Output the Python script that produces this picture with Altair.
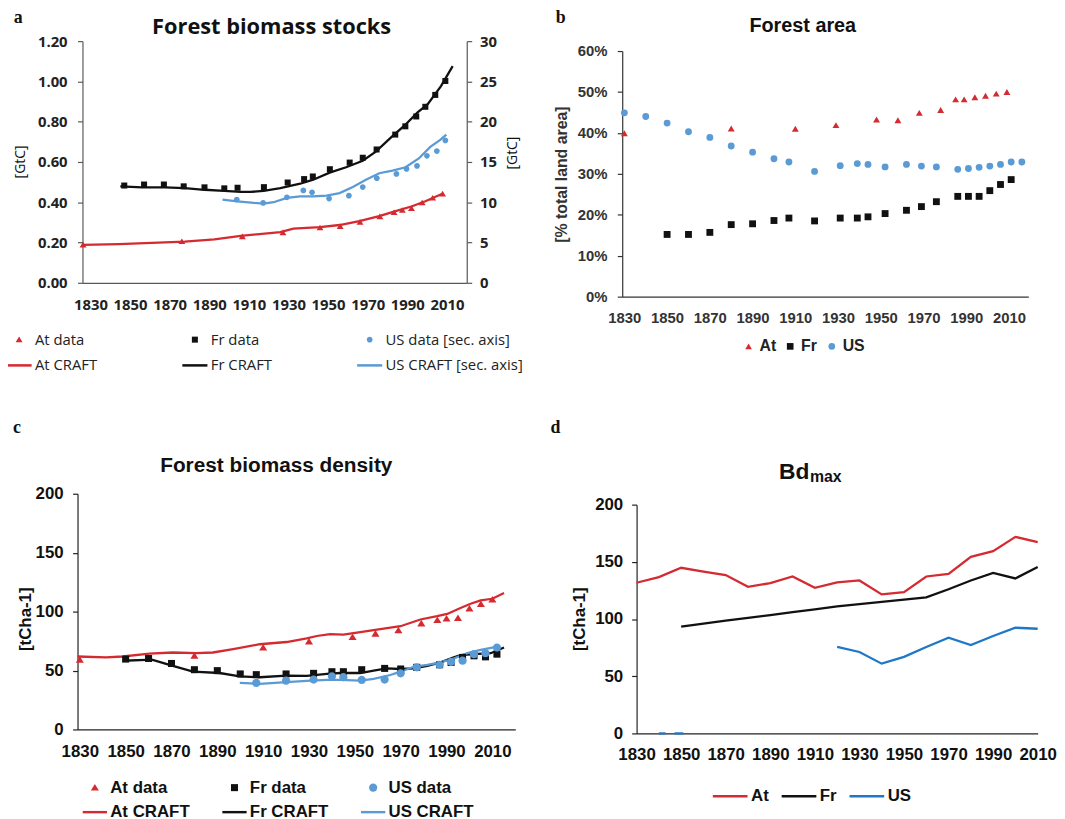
import altair as alt
import pandas as pd

RED = "#d42a30"
BLACK = "#111111"
LBLUE = "#5b9bd5"
DBLUE = "#1f77c8"
SANS = "Liberation Sans"
CAL = "Open Sans"
SERIF = "Liberation Serif"

XV = [1830, 1850, 1870, 1890, 1910, 1930, 1950, 1970, 1990, 2010]

# ---------------- panel a : forest biomass stocks ----------------
a_at_year = [1826.3, 1876.2, 1906.7, 1927.2, 1945.9, 1956.1, 1966.1, 1976.1, 1983.3, 1987.5, 1992.1, 1997.5, 2002.8, 2007.8]
a_at_val = [0.188, 0.205, 0.229, 0.249, 0.273, 0.280, 0.301, 0.328, 0.349, 0.360, 0.369, 0.397, 0.421, 0.441]
a_fr_year = [1847.1, 1857.1, 1867.1, 1877.1, 1887.6, 1897.6, 1904.3, 1917.6, 1929.6, 1937.9, 1942.3, 1950.9,
             1960.9, 1967.5, 1974.5, 1983.9, 1989.0, 1994.5, 1999.1, 2004.1, 2009.2]
a_fr_val = [0.483, 0.488, 0.488, 0.479, 0.474, 0.469, 0.472, 0.475, 0.498, 0.515, 0.528, 0.564,
            0.597, 0.621, 0.662, 0.736, 0.777, 0.826, 0.874, 0.933, 1.002]
a_us_year = [1903.9, 1917.2, 1929.2, 1937.5, 1941.9, 1950.5, 1960.5, 1967.5, 1974.6, 1984.5, 1989.6, 1994.9,
             1999.9, 2004.9, 2009.2]
a_us_val = [10.33, 9.91, 10.61, 11.47, 11.23, 10.45, 10.82, 11.88, 12.99, 13.52, 14.14, 14.51, 15.77, 16.35, 17.67]
a_atc_year = [1826.0, 1844.3, 1877.6, 1892.6, 1905.9, 1925.9, 1932.5, 1945.9, 1955.8, 1965.8, 1975.8, 1984.1,
              1992.4, 1999.1, 2007.4]
a_atc_val = [0.188, 0.192, 0.205, 0.216, 0.233, 0.252, 0.269, 0.277, 0.287, 0.306, 0.331, 0.356, 0.380, 0.405, 0.441]
a_frc_year = [1845.1, 1856.0, 1867.6, 1877.6, 1887.6, 1897.6, 1905.9, 1910.9, 1917.5, 1925.9, 1935.9, 1942.5,
              1950.8, 1959.1, 1967.5, 1974.1, 1981.8, 1988.5, 1995.2, 2000.3, 2007.0, 2012.9]
a_frc_val = [0.479, 0.474, 0.474, 0.470, 0.462, 0.457, 0.452, 0.451, 0.457, 0.470, 0.492, 0.512,
             0.547, 0.574, 0.606, 0.651, 0.722, 0.780, 0.846, 0.887, 0.977, 1.076]
a_usc_year = [1896.7, 1904.2, 1912.5, 1917.5, 1922.5, 1929.2, 1935.9, 1942.5, 1949.2, 1955.8, 1962.5, 1969.1,
              1975.8, 1982.5, 1989.1, 1995.8, 2001.6, 2006.6, 2009.7]
a_usc_val = [10.33, 10.12, 9.91, 9.84, 10.0, 10.53, 10.73, 10.73, 10.82, 11.14, 11.88, 12.79,
             13.6, 13.93, 14.34, 15.44, 16.88, 17.75, 18.4]

# ---------------- panel b : forest area (% of land) ----------------
b_at_year = [1830, 1880, 1910, 1929, 1948, 1958, 1968, 1978, 1985, 1989, 1994, 1999, 2004, 2009]
b_at_val = [39.9, 41.1, 41.0, 41.9, 43.3, 43.1, 44.9, 45.6, 48.2, 48.2, 48.7, 49.1, 49.6, 50.0]
b_fr_year = [1850, 1860, 1870, 1880, 1890, 1900, 1907, 1919, 1931, 1939, 1944, 1952, 1962, 1969, 1976,
             1986, 1991, 1996, 2001, 2006, 2011]
b_fr_val = [15.2, 15.2, 15.7, 17.6, 17.8, 18.6, 19.2, 18.5, 19.2, 19.2, 19.5, 20.3, 21.1, 22.0, 23.2,
            24.5, 24.5, 24.5, 25.9, 27.4, 28.6]
b_us_year = [1830, 1840, 1850, 1860, 1870, 1880, 1890, 1900, 1907, 1919, 1931, 1939, 1944, 1952, 1962,
             1969, 1976, 1986, 1991, 1996, 2001, 2006, 2011, 2016]
b_us_val = [44.9, 44.0, 42.4, 40.3, 38.9, 36.8, 35.3, 33.7, 32.9, 30.6, 32.0, 32.5, 32.3, 31.7, 32.3,
            31.9, 31.7, 31.1, 31.3, 31.6, 31.9, 32.3, 32.9, 32.9]

# ---------------- panel c : forest biomass density ----------------
c_at_year = [1830, 1880, 1910, 1930, 1949, 1959, 1969, 1979, 1986, 1990, 1995, 2000, 2005, 2010]
c_at_val = [59.1, 62.4, 69.5, 74.5, 78.4, 81.2, 84.0, 89.9, 92.7, 94.1, 94.4, 102.5, 106.4, 110.1]
c_fr_year = [1850, 1860, 1870, 1880, 1890, 1900, 1907, 1920, 1932, 1940, 1945, 1953, 1963, 1970, 1977,
             1987, 1992, 1997, 2002, 2007, 2012]
c_fr_val = [59.7, 60.2, 56.0, 50.7, 49.9, 47.1, 46.5, 47.1, 47.6, 49.0, 49.0, 50.7, 51.8, 51.3, 52.7,
            54.9, 56.9, 61.1, 62.5, 61.6, 63.9]
c_us_year = [1907, 1920, 1932, 1940, 1945, 1953, 1963, 1970, 1977, 1987, 1992, 1997, 2002, 2007, 2012]
c_us_val = [39.5, 41.4, 42.3, 45.1, 44.3, 42.0, 42.3, 47.6, 52.7, 54.9, 57.4, 58.3, 63.9, 64.7, 69.5]
c_atc_year = [1829, 1841.4, 1848.7, 1860.4, 1870.6, 1880.8, 1888.1, 1896.9, 1908.5, 1920.2, 1929, 1933.4,
              1939.2, 1945, 1950.9, 1958.2, 1965.5, 1969.9, 1978.6, 1985.9, 1990.3, 1996.1, 2000.5, 2004.9,
              2010, 2015.1]
c_atc_val = [61.9, 61.1, 61.9, 64.4, 65.3, 64.7, 65.3, 68.1, 72.3, 74.2, 77.3, 79.3,
             80.9, 80.4, 82.1, 84.3, 86.3, 87.6, 93.3, 96.1, 98.0, 103.1, 106.7, 109.5, 110.9, 115.7]
c_frc_year = [1848.7, 1858.9, 1861.8, 1870.6, 1879.4, 1891, 1899.8, 1908.5, 1920.2, 1929, 1937.8, 1943.6,
              1952.3, 1958.2, 1964, 1969.9, 1975.7, 1981.6, 1987.4, 1993.2, 1996.1, 2002, 2009.3, 2015.1]
c_frc_val = [58.3, 59.1, 59.1, 54.0, 49.0, 47.9, 45.1, 44.3, 45.7, 45.4, 47.1, 47.9,
             47.9, 49.9, 51.8, 51.3, 51.8, 54.0, 56.9, 61.1, 63.0, 63.9, 64.7, 69.5]
c_usc_year = [1899.8, 1908.5, 1920.2, 1929, 1937.8, 1943.6, 1952.3, 1958.2, 1965.5, 1969.9, 1975.7, 1981.6,
              1987.4, 1993.2, 1999.1, 2004.9, 2012.2]
c_usc_val = [39.5, 38.7, 40.1, 41.2, 42.0, 42.0, 41.4, 42.9, 46.2, 49.0, 53.2, 54.9, 56.9, 60.2, 64.7, 67.5, 70.3]

# ---------------- panel d : Bd max ----------------
d_at_year = [1830, 1840, 1850, 1860, 1870, 1880, 1890, 1900, 1910, 1920, 1930, 1940, 1950, 1960, 1970,
             1980, 1990, 2000, 2010]
d_at_val = [131.7, 136.6, 144.8, 141.5, 138.4, 128.2, 131.4, 137.2, 127.3, 132.0, 133.7, 121.5, 123.5,
            137.2, 139.5, 154.4, 159.3, 171.8, 167.2]
d_fr_year = [1850, 1860, 1870, 1880, 1890, 1900, 1910, 1920, 1930, 1940, 1950, 1960, 1970, 1980, 1990,
             2000, 2010]
d_fr_val = [93.3, 96.0, 98.5, 101.0, 103.5, 106.0, 108.5, 111.0, 113.0, 115.0, 117.0, 119.0, 126.0,
            133.7, 140.4, 135.5, 145.5]
d_us_year = [1920, 1930, 1940, 1950, 1960, 1970, 1980, 1990, 2000, 2010]
d_us_val = [75.6, 71.2, 61.0, 66.9, 75.6, 83.7, 77.3, 85.2, 92.4, 91.5]
d_us0a_year = [1840, 1843]
d_us0b_year = [1847, 1851]
d_us0_val = [0, 0]


def frame(parts, vname="v"):
    rows = []
    for name, grp, yrs, vals in parts:
        for y, v in zip(yrs, vals):
            rows.append({"s": name, "g": grp, "yr": y, vname: v})
    return pd.DataFrame(rows)


def txt(text, x, y, size, font, weight="bold", align="left", angle=None, color="#111",
        baseline="alphabetic"):
    kw = dict(fontSize=size, font=font, fontWeight=weight, align=align, baseline=baseline, color=color)
    if angle is not None:
        kw["angle"] = angle
    return alt.Chart(pd.DataFrame({"t": [text]})).mark_text(**kw).encode(
        x=alt.value(x), y=alt.value(y), text="t:N")


def spacer(w, h):
    return alt.Chart(pd.DataFrame({"z": [0]})).mark_point(opacity=0).encode(
        x=alt.value(0), y=alt.value(0)).properties(width=w, height=h)


def xaxis(font, size, pad, color, dcol):
    return alt.Axis(values=XV, format="d", title=None, grid=False, ticks=False, tickSize=0,
                    labelPadding=pad, labelFont=font, labelFontSize=size, labelFontWeight="bold",
                    labelColor=color, domainColor=dcol, domainWidth=1.2, labelFlush=False,
                    labelOverlap=False)


def yaxis(vals, font, size, pad, color, dcol, fmt=None, expr=None, orient="left"):
    kw = dict(values=vals, title=None, grid=False, tickSize=5, tickColor=dcol, tickWidth=1.2,
              labelPadding=pad, labelFont=font, labelFontSize=size, labelFontWeight="bold",
              labelColor=color, domainColor=dcol, domainWidth=1.2, orient=orient, labelOverlap=False,
              labelFlush=False)
    if fmt:
        kw["format"] = fmt
    if expr:
        kw["labelExpr"] = expr
    return alt.Axis(**kw)


def tri(r):
    return f"M0,{-r:.3f}L{r*1.1:.3f},{r*0.8:.3f}L{-r*1.1:.3f},{r*0.8:.3f}Z"


def sq(r):
    return f"M{-r:.3f},{-r:.3f}H{r:.3f}V{r:.3f}H{-r:.3f}Z"


def circ(r):
    return f"M{r:.3f},0A{r:.3f},{r:.3f},0,1,1,{-r:.3f},0A{r:.3f},{r:.3f},0,1,1,{r:.3f},0Z"


LINE = "M-1,-0.1H1V0.1H-1Z"


def line_layer(years, vals, color, x, y, vname="v"):
    df = pd.DataFrame({"yr": years, vname: vals})
    return alt.Chart(df).mark_line(strokeWidth=2.3, color=color).encode(x=x, y=y)


# =============== Panel A ===============
A_dom = ["At data", "At CRAFT", "Fr data", "Fr CRAFT", "US data [sec. axis]", "US CRAFT [sec. axis]"]
a_col = alt.Scale(domain=A_dom, range=[RED, RED, BLACK, BLACK, LBLUE, LBLUE])
a_shp = alt.Scale(domain=A_dom, range=[tri(0.25), LINE, sq(0.24), LINE, circ(0.23), LINE])
a_leg = alt.Legend(title=None, orient="none", legendX=-77, legendY=288.4, columns=3, columnPadding=85.5,
                   rowPadding=5, symbolSize=640, labelFont=CAL, labelFontSize=15, labelFontWeight="normal",
                   labelColor="#222", labelOffset=3, symbolOpacity=1, symbolStrokeWidth=0)
AW, AH = 388, 244
xa = alt.X("yr:Q", scale=alt.Scale(domain=[1826, 2020], nice=False, zero=False),
           axis=xaxis(CAL, 15, 15, "#222", "#595959"))
ya = alt.Y("v:Q", scale=alt.Scale(domain=[0, 1.2], nice=False),
           axis=yaxis([0, 0.2, 0.4, 0.6, 0.8, 1.0, 1.2], CAL, 15, 10.5, "#222", "#595959", fmt=".2f"))
ya2 = alt.Y("w:Q", scale=alt.Scale(domain=[0, 30], nice=False),
            axis=yaxis([0, 5, 10, 15, 20, 25, 30], CAL, 15, 8, "#222", "#595959", fmt="d", orient="right"))

a_pts_l = frame([("At data", "a", a_at_year, a_at_val), ("Fr data", "f", a_fr_year, a_fr_val)])
a_pts_r = frame([("US data [sec. axis]", "u", a_us_year, a_us_val)], "w")

left_a = alt.layer(
    line_layer(a_atc_year, a_atc_val, RED, xa, ya),
    line_layer(a_frc_year, a_frc_val, BLACK, xa, ya),
    alt.Chart(a_pts_l).mark_point(filled=True, opacity=1, size=640, strokeWidth=0).encode(
        x=xa, y=ya, color=alt.Color("s:N", scale=a_col, legend=a_leg),
        shape=alt.Shape("s:N", scale=a_shp, legend=a_leg)),
)
right_a = alt.layer(
    line_layer(a_usc_year, a_usc_val, LBLUE, xa, ya2, "w"),
    alt.Chart(a_pts_r).mark_point(filled=True, opacity=1, size=640, strokeWidth=0).encode(
        x=xa, y=ya2, color=alt.Color("s:N", scale=a_col, legend=a_leg),
        shape=alt.Shape("s:N", scale=a_shp, legend=a_leg)),
)
A = alt.layer(
    left_a, right_a,
    txt("a", -69.5, -18.3, 18, SERIF),
    txt("Forest biomass stocks", 191, -7.3, 22, CAL, align="center"),
    txt("[GtC]", -62, 122, 14, CAL, weight="normal", align="center", angle=270, baseline="middle"),
    txt("[GtC]", 435, 113, 14, CAL, weight="normal", align="center", angle=270, baseline="middle"),
).resolve_scale(y="independent").properties(width=AW, height=AH)

# =============== Panel B ===============
B_dom = ["At", "Fr", "US"]
b_col = alt.Scale(domain=B_dom, range=[RED, BLACK, LBLUE])
b_shp = alt.Scale(domain=B_dom, range=["triangle-up", "square", "circle"])
b_leg = alt.Legend(title=None, orient="none", legendX=119.6, legendY=290.2, direction="horizontal",
                   columnPadding=-2.2, gridAlign="all", symbolSize=45, labelFont=SANS, labelFontSize=16,
                   labelFontWeight="bold", labelColor="#222", labelOffset=3, symbolOpacity=1,
                   symbolStrokeWidth=0)
BW, BH = 410, 248
xb = alt.X("yr:Q", scale=alt.Scale(domain=[1829, 2019], nice=False, zero=False),
           axis=xaxis(SANS, 15, 14, "#333", "#333"))
yb = alt.Y("v:Q", scale=alt.Scale(domain=[0, 60], nice=False),
           axis=yaxis([0, 10, 20, 30, 40, 50, 60], SANS, 15, 10.5, "#333", "#333", expr="datum.value + '%'"))
b_pts = frame([("At", "a", b_at_year, b_at_val), ("Fr", "f", b_fr_year, b_fr_val),
               ("US", "u", b_us_year, b_us_val)])
B = alt.layer(
    alt.Chart(b_pts).mark_point(filled=True, opacity=1, size=48, strokeWidth=0).encode(
        x=xb, y=yb, color=alt.Color("s:N", scale=b_col, legend=b_leg),
        shape=alt.Shape("s:N", scale=b_shp, legend=b_leg)),
    txt("b", -67.1, -28.5, 18, SERIF),
    txt("Forest area", 182.3, -19.4, 20, SANS, align="center"),
    txt("[% total land area]", -61, 124.8, 16, SANS, align="center", angle=270, baseline="middle",
        color="#333"),
).properties(width=BW, height=BH)

# =============== Panel C ===============
C_dom = ["At data", "At CRAFT", "Fr data", "Fr CRAFT", "US data", "US CRAFT"]
c_col = alt.Scale(domain=C_dom, range=[RED, RED, BLACK, BLACK, LBLUE, LBLUE])
c_shp = alt.Scale(domain=C_dom, range=[tri(0.3), LINE, sq(0.29), LINE, circ(0.34), LINE])
c_leg = alt.Legend(title=None, orient="none", legendX=5, legendY=284, columns=3, columnPadding=32,
                   rowPadding=4, symbolSize=600, labelFont=SANS, labelFontSize=17, labelFontWeight="bold",
                   labelColor="#111", labelOffset=3, symbolOpacity=1, symbolStrokeWidth=0)
CW, CH = 442, 238
xc = alt.X("yr:Q", scale=alt.Scale(domain=[1829, 2020], nice=False, zero=False),
           axis=xaxis(SANS, 17, 14, "#111", "#222"))
yc = alt.Y("v:Q", scale=alt.Scale(domain=[0, 200], nice=False),
           axis=yaxis([0, 50, 100, 150, 200], SANS, 17, 9.5, "#111", "#222", fmt="d"))
c_pts = frame([("At data", "a", c_at_year, c_at_val), ("Fr data", "f", c_fr_year, c_fr_val),
               ("US data", "u", c_us_year, c_us_val)])
C = alt.layer(
    line_layer(c_atc_year, c_atc_val, RED, xc, yc),
    line_layer(c_frc_year, c_frc_val, BLACK, xc, yc),
    line_layer(c_usc_year, c_usc_val, LBLUE, xc, yc),
    alt.Chart(c_pts).mark_point(filled=True, opacity=1, size=600, strokeWidth=0).encode(
        x=xc, y=yc, color=alt.Color("s:N", scale=c_col, legend=c_leg),
        shape=alt.Shape("s:N", scale=c_shp, legend=c_leg)),
    txt("c", -65.1, -61.8, 18, SERIF),
    txt("Forest biomass density", 200.7, -21.6, 21, SANS, align="center"),
    txt("[tCha-1]", -52.3, 126.7, 17, SANS, align="center", angle=270, baseline="middle"),
).properties(width=CW, height=CH)

# =============== Panel D ===============
D_dom = ["At", "Fr", "US"]
d_col = alt.Scale(domain=D_dom, range=[RED, BLACK, DBLUE])
d_leg = alt.Legend(title=None, orient="none", legendX=75.5, legendY=275.4, direction="horizontal",
                   columnPadding=7.5, symbolSize=1225, symbolStrokeWidth=2.5, symbolType="stroke",
                   labelFont=SANS, labelFontSize=17, labelFontWeight="bold", labelColor="#111",
                   labelOffset=2)
DW, DH = 405, 231
xd = alt.X("yr:Q", scale=alt.Scale(domain=[1830, 2010], nice=False, zero=False),
           axis=xaxis(SANS, 17, 13.3, "#111", "#222"))
yd = alt.Y("v:Q", scale=alt.Scale(domain=[0, 200], nice=False),
           axis=yaxis([0, 50, 100, 150, 200], SANS, 17, 9, "#111", "#222", fmt="d"))
d_lines = frame([("At", "a", d_at_year, d_at_val), ("Fr", "f", d_fr_year, d_fr_val),
                 ("US", "u", d_us_year, d_us_val), ("US", "u0a", d_us0a_year, d_us0_val),
                 ("US", "u0b", d_us0b_year, d_us0_val)])
D = alt.layer(
    alt.Chart(d_lines).mark_line(strokeWidth=2.3).encode(
        x=xd, y=yd, detail="g:N", color=alt.Color("s:N", scale=d_col, legend=d_leg)),
    txt("d", -86.8, -72.8, 18, SERIF),
    txt("Bd", 174.5, -26, 23, SANS, align="right"),
    txt("max", 175, -22.6, 16, SANS, align="left"),
    txt("[tCha-1]", -57.2, 115.7, 17, SANS, align="center", angle=270, baseline="middle"),
).properties(width=DW, height=DH)

IND = dict(color="independent", shape="independent")
A_grp = alt.hconcat(spacer(4.7, 1), A, spacing=0, bounds="flush").resolve_scale(**IND)
B_grp = alt.vconcat(spacer(1, 9.4), B, spacing=0, bounds="flush").resolve_scale(**IND)
D_grp = alt.vconcat(spacer(1, 11), D, spacing=0, bounds="flush").resolve_scale(**IND)

row1 = alt.hconcat(A_grp, B_grp, spacing=30).resolve_scale(**IND)
row2 = alt.hconcat(C, D_grp, spacing=35.5).resolve_scale(**IND)
chart = alt.vconcat(row1, row2, spacing=45).resolve_scale(**IND).properties(
    padding={"left": -1.8, "top": -3.5, "right": 0, "bottom": 0}, background="white"
).configure_view(stroke=None)

chart.save("out.html", embed_options={"renderer": "svg", "actions": False})
